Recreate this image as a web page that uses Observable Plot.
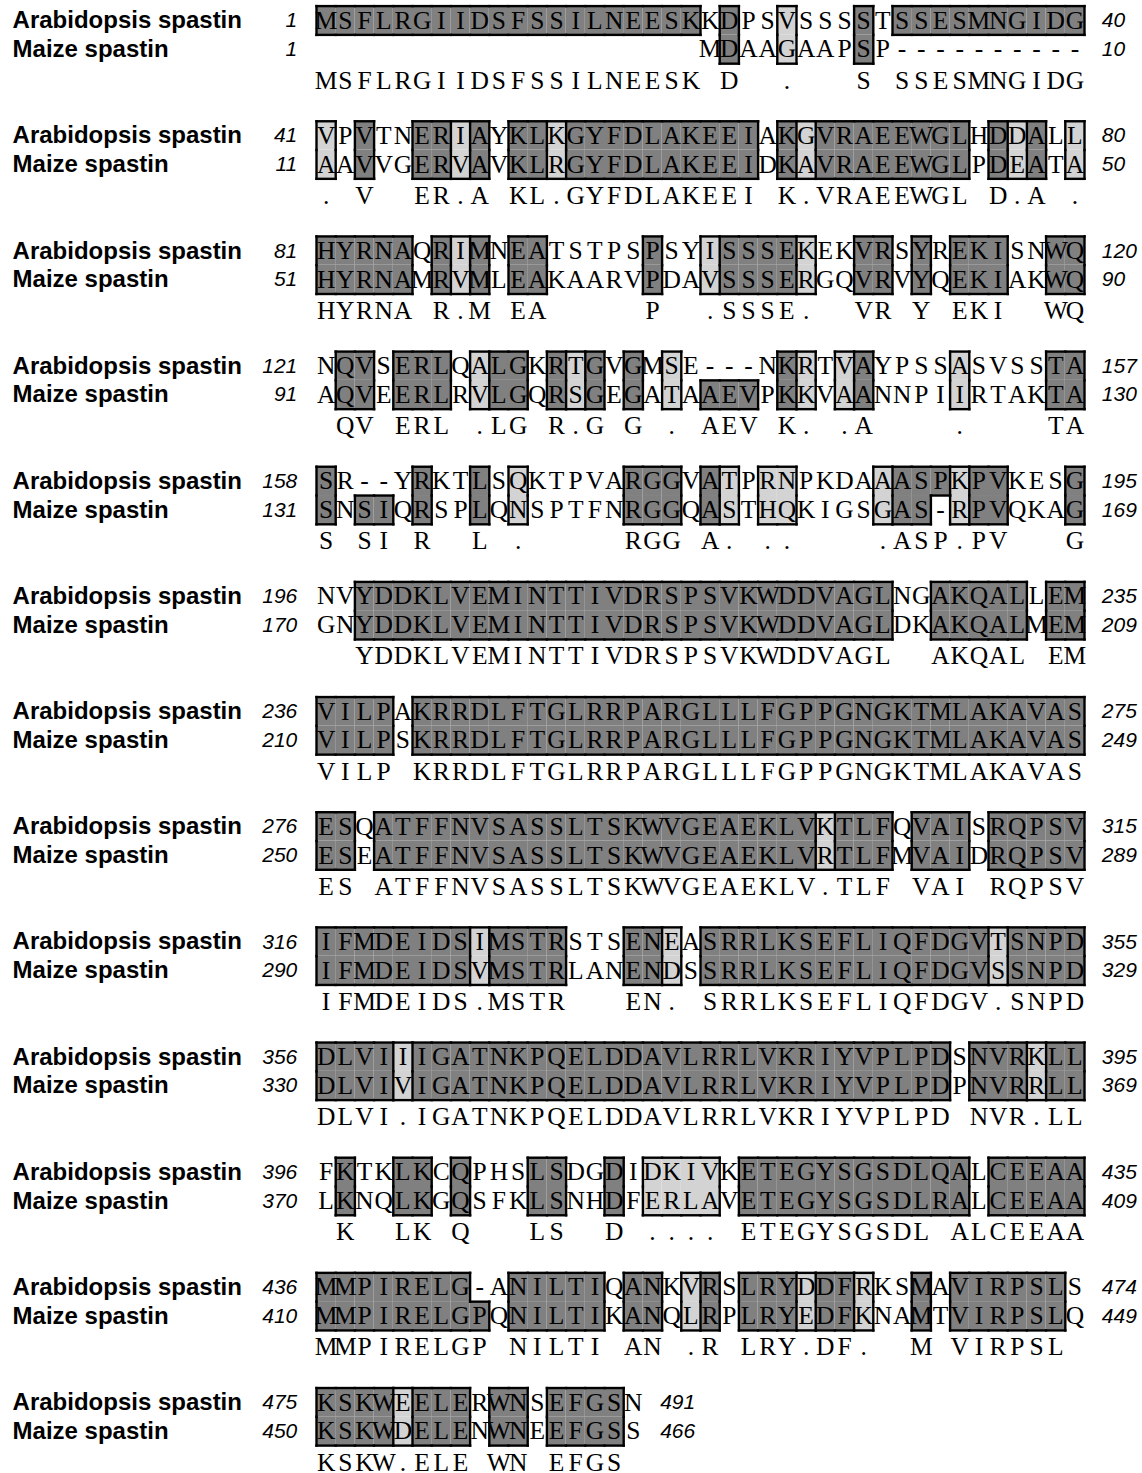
<!DOCTYPE html>
<html>
<head>
<meta charset="utf-8">
<script src="https://cdn.jsdelivr.net/npm/d3@7"></script>
<script src="https://cdn.jsdelivr.net/npm/@observablehq/plot@0.6"></script>
<style>
  body { margin: 0; background: #fff; }
  #chart svg { display: block; }
</style>
</head>
<body>
<div id="chart"></div>
<script>
// Alignment of Arabidopsis and maize spastin, 40 columns per block.
const sequenceNames = ["Arabidopsis spastin", "Maize spastin"];

const arabidopsis = [
  "MSFLRGIIDSFSSILNEESKKDPSVSSSSTSSESMNGIDG",
  "VPVTNERIAYKLKGYFDLAKEEIAKGVRAEEWGLHDDALL",
  "HYRNAQRIMNEATSTPSPSYISSSEKEKVRSYREKISNWQ",
  "NQVSERLQALGKRTGVGMSE---NKRTVAYPSSASVSSTA",
  "SR--YRKTLSQKTPVARGGVATPRNPKDAAASPKPVKESG",
  "NVYDDKLVEMINTTIVDRSPSVKWDDVAGLNGAKQALLEM",
  "VILPAKRRDLFTGLRRPARGLLLFGPPGNGKTMLAKAVAS",
  "ESQATFFNVSASSLTSKWVGEAEKLVKTLFQVAISRQPSV",
  "IFMDEIDSIMSTRSTSENEASRRLKSEFLIQFDGVTSNPD",
  "DLVIIIGATNKPQELDDAVLRRLVKRIYVPLPDSNVRKLL",
  "FKTKLKCQPHSLSDGDIDKIVKETEGYSGSDLQALCEEAA",
  "MMPIRELG-ANILTIQANKVRSLRYDDFRKSMAVIRPSLS",
  "KSKWEELERWNSEFGSN"
];

const maize = [
  "                    MDAAGAAPSP----------",
  "AAVVGERVAVKLRGYFDLAKEEIDKAVRAEEWGLPDEATA",
  "HYRNAMRVMLEAKAARVPDAVSSSERGQVRVYQEKIAKWQ",
  "AQVEERLRVLGQRSGEGATAAEVPKKVAANNPIIRTAKTA",
  "SNSIQRSPLQNSPTFNRGGQASTHQKIGSGAS-RPVQKAG",
  "GNYDDKLVEMINTTIVDRSPSVKWDDVAGLDKAKQALMEM",
  "VILPSKRRDLFTGLRRPARGLLLFGPPGNGKTMLAKAVAS",
  "ESEATFFNVSASSLTSKWVGEAEKLVRTLFMVAIDRQPSV",
  "IFMDEIDSVMSTRLANENDSSRRLKSEFLIQFDGVSSNPD",
  "DLVIVIGATNKPQELDDAVLRRLVKRIYVPLPDPNVRRLL",
  "LKNQLKGQSFKLSNHDFERLAVETEGYSGSDLRALCEEAA",
  "MMPIRELGPQNILTIKANQLRPLRYEDFKNAMTVIRPSLQ",
  "KSKWDELENWNEEFGSS"
];

const consensus = [
  "MSFLRGIIDSFSSILNEESK D  .   S SSESMNGIDG",
  ". V  ER.A KL.GYFDLAKEEI K.VRAEEWGL D.A .",
  "HYRNA R.M EA     P  .SSSE.  VR Y EKI  WQ",
  " QV ERL .LG R.G G . AEV K. .A    .    TA",
  "S SI R  L .     RGG A. ..    .ASP.PV   G",
  "  YDDKLVEMINTTIVDRSPSVKWDDVAGL  AKQAL EM",
  "VILP KRRDLFTGLRRPARGLLLFGPPGNGKTMLAKAVAS",
  "ES ATFFNVSASSLTSKWVGEAEKLV.TLF VAI RQPSV",
  "IFMDEIDS.MSTR   EN. SRRLKSEFLIQFDGV.SNPD",
  "DLVI.IGATNKPQELDDAVLRRLVKRIYVPLPD NVR.LL",
  " K  LK Q   LS  D .... ETEGYSGSDL ALCEEAA",
  "MMPIRELGP NILTI AN .R LRY.DF.  M VIRPSL ",
  "KSKW.ELE WN EFGS "
];

// Shading per residue: 2 = identical, 1 = similar, 0 = unshaded
const arabidopsisShade = [
  "2222222222222222222202001000202222222222",
  "1020022120221222222222202122222222021201",
  "2222202120220000020012222100220202220022",
  "0220222012202120201000002101200001000022",
  "2000020020100000222021011000012221220002",
  "0022222222222222222222222222220022222022",
  "2222022222222222222222222222222222222222",
  "2202222222222222222222222212220222022222",
  "2222222212222000221022222222222222212222",
  "2222122222222222222222222222222220222122",
  "0200220200022002011110222222222222022222",
  "2222222200222220220120222122100202222220",
  "22221222022022220"
];

const maizeShade = [
  "0000000000000000000002001000200000000000",
  "1020022120221222222222202122222222021201",
  "2222202120220000020012222100220202220022",
  "0220222012202120201022202101200001000022",
  "2022020020100000222021011000012201220002",
  "0022222222222222222222222222220022222022",
  "2222022222222222222222222222222222222222",
  "2202222222222222222222222212220222022222",
  "2222222212222000221022222222222222212222",
  "2222122222222222222222222222222220222122",
  "0200220200022002011110222222222222022222",
  "2222222220222220220120222122100202222220",
  "22221222022022220"
];

const arabidopsisStart = [1, 41, 81, 121, 158, 196, 236, 276, 316, 356, 396, 436, 475];
const arabidopsisEnd   = [40, 80, 120, 157, 195, 235, 275, 315, 355, 395, 435, 474, 491];
const maizeStart = [1, 11, 51, 91, 131, 170, 210, 250, 290, 330, 370, 410, 450];
const maizeEnd   = [10, 50, 90, 130, 169, 209, 249, 289, 329, 369, 409, 449, 466];

// ---- layout in scale units: one x unit per column, one y unit per sequence row
const BLOCK_ROWS = 4;
const CONSENSUS_OFFSET = 2.585;
const LABEL_X = -15.83;
const LEFT_NUMBER_X = -1.0;
const RIGHT_NUMBER_GAP = 0.9;
const DARK = "#808080";
const LIGHT = "#d3d3d3";

const rows = [arabidopsis, maize];
const shades = [arabidopsisShade, maizeShade];
const starts = [arabidopsisStart, maizeStart];
const ends = [arabidopsisEnd, maizeEnd];

const cells = [], residues = [], consensusChars = [], segments = [], names = [], numbers = [];

arabidopsis.forEach((_, k) => {
  const n = arabidopsis[k].length;
  const top = k * BLOCK_ROWS;
  const shadeAt = (r, c) => (c < 1 || c > n) ? 0 : +shades[r][k][c - 1];

  for (let r = 0; r < 2; ++r) {
    const y0 = top + r;
    names.push({name: sequenceNames[r], y: y0 + 0.5});
    numbers.push({text: String(starts[r][k]), x: LEFT_NUMBER_X, y: y0 + 0.5, anchor: "end"});
    numbers.push({text: String(ends[r][k]), x: n + RIGHT_NUMBER_GAP, y: y0 + 0.5, anchor: "start"});
    for (let c = 1; c <= n; ++c) {
      const ch = rows[r][k][c - 1];
      const s = shadeAt(r, c);
      if (s) cells.push({x1: c - 1, x2: c, y1: y0, y2: y0 + 1, fill: s === 2 ? DARK : LIGHT});
      if (ch !== " ") residues.push({x: c - 0.5, y: y0 + 0.5, ch});
    }
    // vertical outline edges where shading changes along the row
    for (let c = 1; c <= n + 1; ++c) {
      if (shadeAt(r, c - 1) !== shadeAt(r, c)) segments.push({x1: c - 1, x2: c - 1, y1: y0, y2: y0 + 1});
    }
  }
  // horizontal outline edges: top, between the two rows, bottom
  for (let c = 1; c <= n; ++c) {
    const a = shadeAt(0, c), b = shadeAt(1, c);
    if (a) segments.push({x1: c - 1, x2: c, y1: top, y2: top});
    if (a !== b) segments.push({x1: c - 1, x2: c, y1: top + 1, y2: top + 1});
    if (b) segments.push({x1: c - 1, x2: c, y1: top + 2, y2: top + 2});
  }
  consensus[k].split("").forEach((ch, i) => {
    if (ch !== " ") consensusChars.push({x: i + 0.5, y: top + CONSENSUS_OFFSET, ch});
  });
});

const serif = "'Liberation Serif', 'Times New Roman', serif";
const sans = "'Liberation Sans', Arial, Helvetica, sans-serif";

const chart = Plot.plot({
  width: 1142,
  height: 1473,
  x: {domain: [0, 40], range: [316, 1084], axis: null},
  y: {domain: [0, 51], range: [5.6, 5.6 + 51 * 28.79], axis: null},
  style: {background: "#fff"},
  marks: [
    Plot.rect(cells, {x1: "x1", x2: "x2", y1: "y1", y2: "y2", fill: "fill", inset: 0}),
    Plot.link(segments, {x1: "x1", y1: "y1", x2: "x2", y2: "y2", stroke: "#000", strokeWidth: 2.4, strokeLinecap: "square"}),
    Plot.text(residues, {x: "x", y: "y", text: "ch", fontFamily: serif, fontSize: 25.5, fill: "#000", ariaLabel: "residues"}),
    Plot.text(consensusChars, {x: "x", y: "y", text: "ch", fontFamily: serif, fontSize: 25.5, fill: "#000", ariaLabel: "residues"}),
    Plot.text(names, {x: () => LABEL_X, y: "y", text: "name", textAnchor: "start", fontFamily: sans, fontWeight: "bold", fontSize: 24, fill: "#000"}),
    Plot.text(numbers.filter(d => d.anchor === "end"), {x: "x", y: "y", text: "text", textAnchor: "end", fontFamily: sans, fontStyle: "italic", fontSize: 21, fill: "#000", ariaLabel: "numbers"}),
    Plot.text(numbers.filter(d => d.anchor === "start"), {x: "x", y: "y", text: "text", textAnchor: "start", fontFamily: sans, fontStyle: "italic", fontSize: 21, fill: "#000", ariaLabel: "numbers"})
  ]
});

// narrow the serif residue letters so they sit inside their columns
d3.select(chart).selectAll('g[aria-label="residues"] text').each(function() {
  const t = this.getAttribute("transform");
  if (t) this.setAttribute("transform", t + " scale(0.74,1)");
});
// slightly condensed position numbers
d3.select(chart).selectAll('g[aria-label="numbers"] text').each(function() {
  const t = this.getAttribute("transform");
  if (t) this.setAttribute("transform", t + " scale(0.92,1)");
});

document.getElementById("chart").appendChild(chart);
</script>
</body>
</html>
